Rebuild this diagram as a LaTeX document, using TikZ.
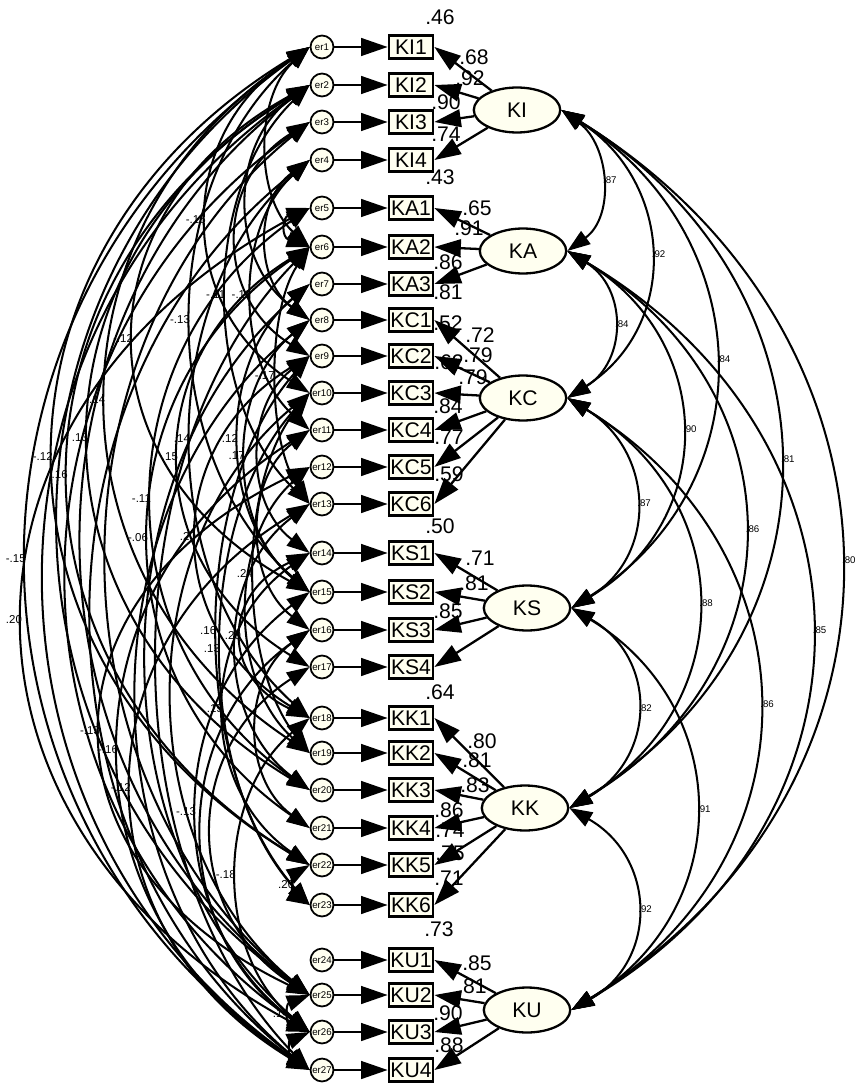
\documentclass[tikz,border=0pt]{standalone}
\usepackage{fontspec}
\setmainfont{Liberation Sans}
\usetikzlibrary{arrows.meta, shapes.geometric}
\definecolor{ivory}{RGB}{255,255,240}

\begin{document}
\begin{tikzpicture}[
    x=0.567pt, y=-0.567pt,
    ind/.style={rectangle, draw, line width=1.5pt, fill=ivory, minimum width=25pt,
                minimum height=13pt, inner sep=0pt, font=\fontsize{12}{12}\selectfont},
    err/.style={circle, draw, line width=1pt, fill=ivory, minimum size=13pt,
                inner sep=0pt, font=\fontsize{5.5}{5.5}\selectfont},
    lat/.style={ellipse, draw, line width=1.3pt, fill=ivory, minimum width=49pt,
                minimum height=25.5pt, inner sep=0pt, font=\fontsize{12}{12}\selectfont},
    arr/.style={-{Triangle[length=15pt,width=10pt]}, line width=1.3pt},
    cov/.style={{Triangle[length=13pt,width=9pt]}-{Triangle[length=13pt,width=9pt]}, line width=1.15pt},
    val/.style={font=\fontsize{12}{12}\selectfont, inner sep=0pt},
    cval/.style={font=\fontsize{6.5}{6.5}\selectfont, inner sep=1pt},
    fval/.style={font=\fontsize{5.5}{5.5}\selectfont, inner sep=1pt},
]
\fill[white] (0,0) rectangle (858,1090);
\useasboundingbox (0,0) rectangle (858,1090);

% latent factors
\node[lat] (KI) at (517,110)  {KI};
\node[lat] (KA) at (523,251)  {KA};
\node[lat] (KC) at (523,398)  {KC};
\node[lat] (KS) at (527,608)  {KS};
\node[lat] (KK) at (525,808)  {KK};
\node[lat] (KU) at (527,1010) {KU};

% indicators with their error terms
\foreach \n/\v/\l [count=\i] in {KI1/47/KI, KI2/85/KI, KI3/122/KI, KI4/160/KI,
    KA1/208/KA, KA2/247/KA, KA3/284/KA,
    KC1/320/KC, KC2/356/KC, KC3/393/KC, KC4/430/KC, KC5/467/KC, KC6/504/KC,
    KS1/553/KS, KS2/592/KS, KS3/630/KS, KS4/667/KS,
    KK1/718/KK, KK2/753/KK, KK3/790/KK, KK4/828/KK, KK5/865/KK, KK6/905/KK,
    KU1/960/KU, KU2/995/KU, KU3/1032/KU, KU4/1070/KU}{
  \node[ind] (\n) at (411,\v) {\n};
  \node[err] (er\i) at (322,\v) {er\i};
  \draw[arr] (er\i) -- (\n);
  \draw[arr] (\l) -- (\n.east);
}

% factor covariances
\foreach \a/\b/\d/\h/\t [count=\i] in {KI/KA/48/35/.87, KI/KC/113/72/.92, KA/KC/60/37/.84,
    KI/KS/197/125/.84, KA/KS/148/89/.90, KC/KS/87/53/.87, KI/KK/284/175/.81,
    KA/KK/233/139/.86, KC/KK/171/103/.88, KS/KK/87/50/.82, KI/KU/364/225/.80,
    KA/KU/321/190/.85, KC/KU/251/153/.86, KS/KU/164/100/.91, KK/KU/87/50/.92}
  \draw[cov] (\a.east) .. controls +(\d,\h) and +(\d,-\h) .. (\b.east)
    node[fval, pos=.5, right] (f\i) {\t};

% error covariances
\foreach \a/\b/\d/\h/\t [count=\i] in {1/10/135/86.5/-.16, 2/13/109/104.75/-.11,
    4/11/75/67.5/-.11, 1/15/156/136.25/-.13, 2/15/232/126.75/-.12, 6/13/43/64.25/-.17,
    1/19/269/176.5/.14, 2/20/292/176.25/.13, 4/18/156/139.5/.14, 7/15/92/77/.12,
    6/17/172/105/.15, 1/22/339/204.5/-.12, 8/15/83/68/.17, 2/22/319/195/.16,
    5/20/208/145.5/-.11, 6/21/212/145.25/-.06, 9/18/148/90.5/.20, 10/19/72/90/.24,
    1/27/375/255.75/-.15, 5/26/380/206/.20, 9/23/121/137.25/.16, 14/18/88/41.25/.20,
    10/23/116/128/.13, 14/22/112/78/.15, 12/25/276/132/-.13, 11/27/252/160/-.16,
    13/27/235/141.5/-.12, 15/26/148/110/-.13, 18/26/95/78.5/-.18, 22/23/17/10/.20,
    25/26/24/9.25/.14}
  \draw[cov] (er\a.west) .. controls +(-\d,\h) and +(-\d,-\h) .. (er\b.west)
    node[cval, pos=.5, left] (c\i) {\t};
\foreach \a/\b/\d/\h in {1/25/332/237, 2/27/351/246.25, 3/26/321/227.5, 2/25/301/227.5,
    4/27/288/227.5, 3/25/268/218.25, 7/26/215/187, 8/27/228/187.5, 10/25/181/150.5,
    6/27/201/205.75, 16/26/141/100.5, 17/25/128/82, 12/19/81/71.5, 11/16/65/50,
    5/6/28/9.75, 4/8/55/40, 9/14/65/49.25, 13/20/95/71.5, 16/21/68/49.5, 3/9/95/58.5,
    26/27/21/9.5, 1/6/55/50, 2/8/81/58.75}
  \draw[cov] (er\a.west) .. controls +(-\d,\h) and +(-\d,-\h) .. (er\b.west);

% loadings and squared multiple correlations
\foreach \t/\x/\y [count=\i] in {.46/440/17, .68/474/57, .92/470/78, .90/446/102, .74/446/134,
    .43/440/177, .65/477/208, .91/469/228, .86/448/262, .81/448/292,
    .52/448/323, .72/480/335, .79/478/355, .62/449/362, .79/473/377, .84/448/406,
    .77/449/437, .59/449/474, .50/440/526, .71/480/558, .81/474/583, .85/448/611,
    .64/440/692, .80/482/741, .81/477/760, .83/475/785, .86/449/810, .74/450/830,
    .75/450/853, .71/449/878, .73/439/929, .85/477/963, .81/472/986, .90/448/1013,
    .88/449/1045}
  \node[val] (v\i) at (\x,\y) {\t};
\end{tikzpicture}
\end{document}
